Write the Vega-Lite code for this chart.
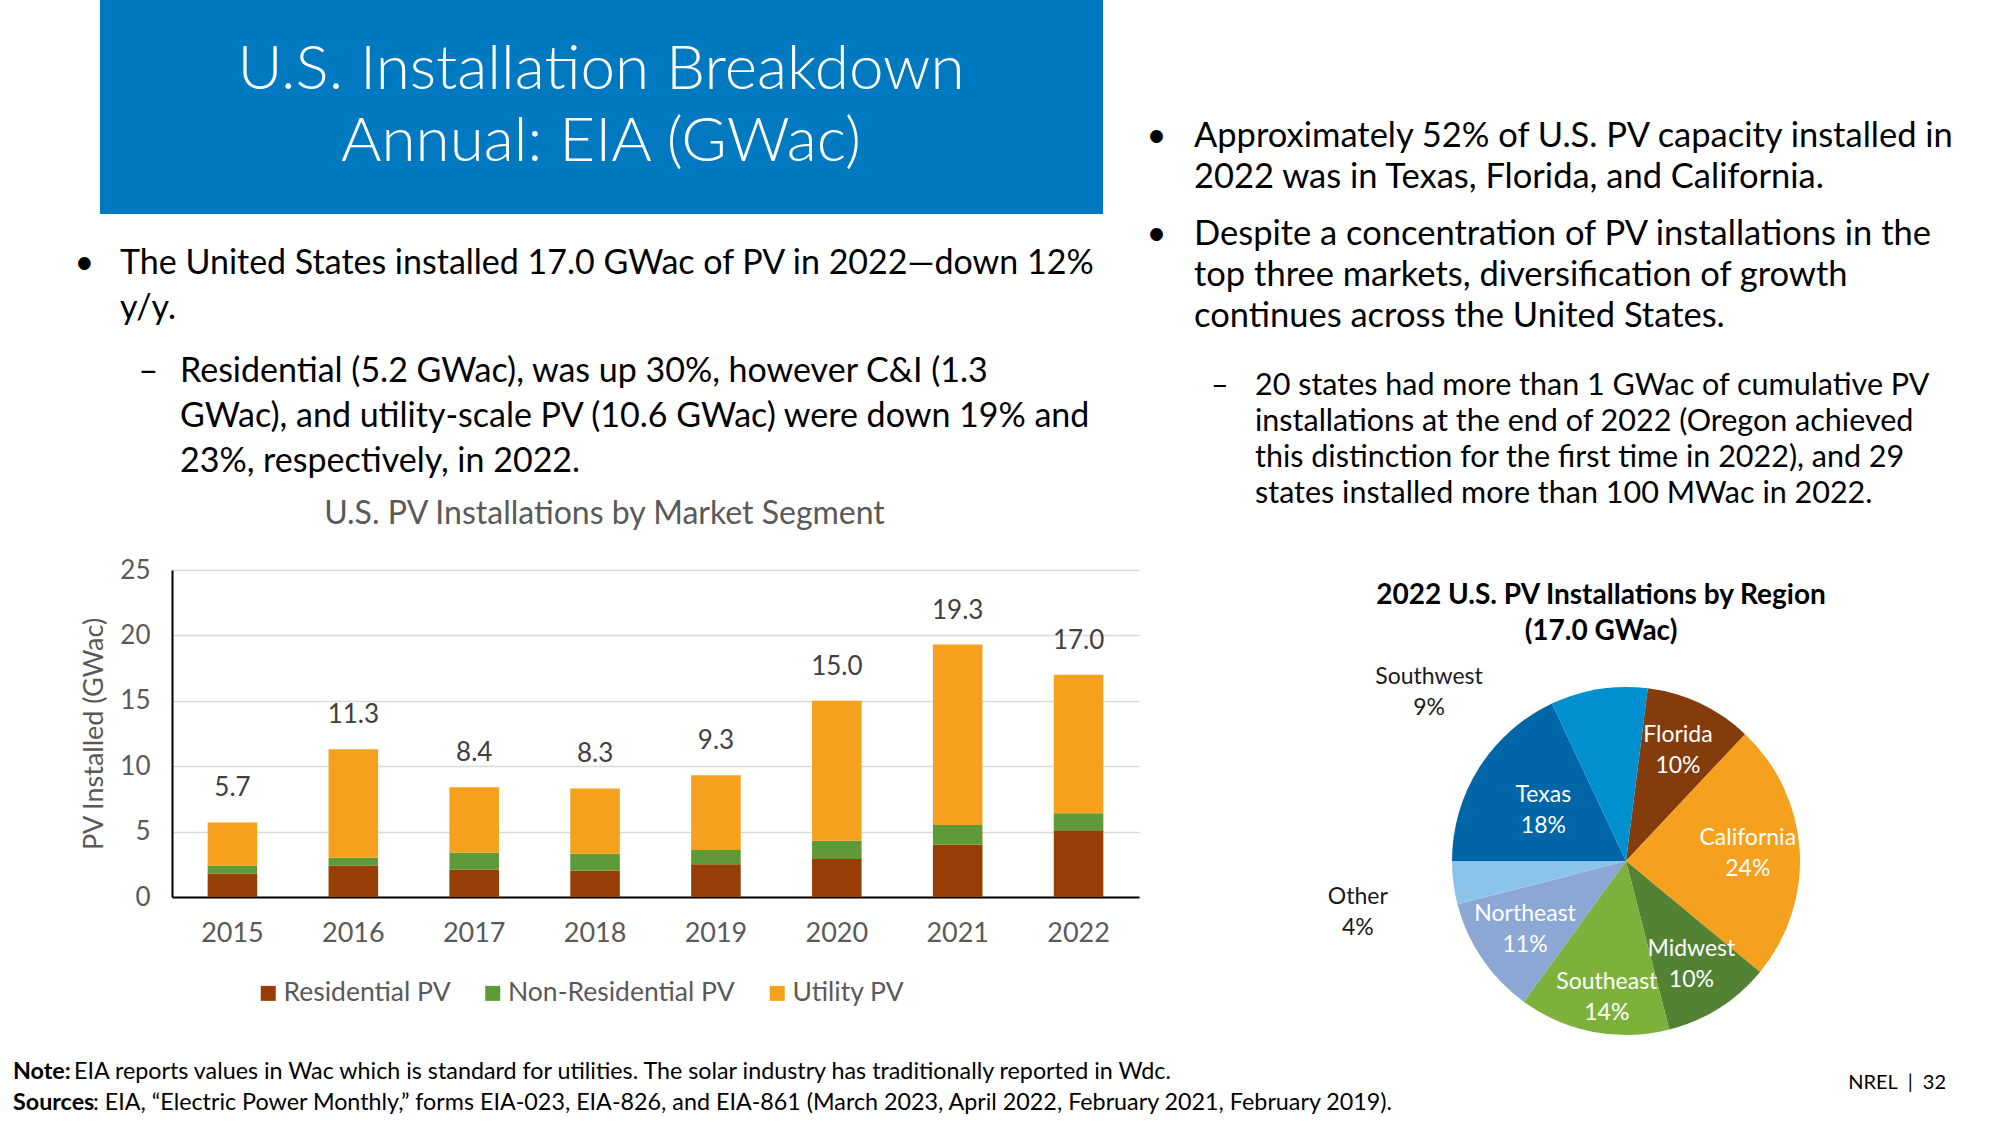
{
  "$schema": "https://vega.github.io/schema/vega-lite/v6.json",
  "background": "white",
  "autosize": {"type": "none"},
  "padding": {"left": 0, "top": 0, "right": 2000, "bottom": 1125},
  "config": {"font": "Lato", "view": {"stroke": null}},
  "resolve": {"scale": {"color": "independent", "theta": "independent"}, "legend": {"color": "independent"}},
  "columns": 5,
  "spacing": 0,
  "bounds": "flush",
  "align": "each",
  "concat": [
    {
      "width": 100, "height": 214,
      "data": {"values": [{}]},
      "mark": {"type": "rect", "opacity": 0},
      "title": {
        "text": "EIA reports values in Wac which is standard for utilities. The solar industry has traditionally reported in Wdc.",
        "orient": "bottom", "anchor": "start", "frame": "group", "dx": 74, "offset": 847.3,
        "fontSize": 23.3, "fontWeight": "normal", "color": "#000000"
      }
    },
    {
      "width": 72, "height": 214,
      "view": {"fill": "#0079C1", "stroke": null},
      "data": {"values": [{}]},
      "mark": {"type": "rect", "opacity": 0}
    },
    {
      "width": 931, "height": 214,
      "view": {"fill": "#0079C1", "stroke": null},
      "data": {"values": [{}]},
      "mark": {"type": "rect", "opacity": 0},
      "title": {
        "text": ["U.S. Installation Breakdown", "Annual: EIA (GWac)"],
        "orient": "bottom", "anchor": "middle", "frame": "group", "dx": -36.5, "offset": -174,
        "fontSize": 62, "fontWeight": 300, "color": "#FFFFFF", "lineHeight": 72
      }
    },
    {
      "width": 1, "height": 1,
      "data": {"values": [{}]},
      "mark": {"type": "rect", "opacity": 0},
      "title": {
        "text": ["Approximately 52% of U.S. PV capacity installed in", "2022 was in Texas, Florida, and California."],
        "subtitle": ["Despite a concentration of PV installations in the", "top three markets, diversification of growth", "continues across the United States."],
        "orient": "bottom", "anchor": "start", "frame": "group", "dx": 55, "offset": 118.5,
        "fontSize": 34.5, "fontWeight": "normal", "color": "#000000", "lineHeight": 41,
        "subtitleFont": "Lato", "subtitleFontSize": 34.5, "subtitleColor": "#000000", "subtitleLineHeight": 41, "subtitlePadding": 22.5
      }
    },
    {
      "width": 1, "height": 1,
      "data": {"values": [{}]},
      "mark": {"type": "rect", "opacity": 0},
      "title": {
        "text": "\u2022",
        "subtitle": "\u2022",
        "orient": "bottom", "anchor": "start", "frame": "group", "dx": -305.5, "offset": 118.5,
        "fontSize": 34.5, "fontWeight": "normal", "color": "#000000",
        "subtitleFont": "Lato", "subtitleFontSize": 34.5, "subtitleColor": "#000000", "subtitlePadding": 63.5
      }
    },
    {
      "width": 100, "height": 356,
      "data": {"values": [{}]},
      "mark": {"type": "rect", "opacity": 0},
      "title": {
        "text": ["The United States installed 17.0 GWac of PV in 2022\u2014down 12%", "y/y."],
        "orient": "bottom", "anchor": "start", "frame": "group", "dx": 120, "offset": -323.3,
        "fontSize": 34, "fontWeight": "normal", "color": "#000000", "lineHeight": 45
      }
    },
    {
      "width": 1, "height": 1,
      "data": {"values": [{}]},
      "mark": {"type": "rect", "opacity": 0},
      "title": {
        "text": ["Residential (5.2 GWac), was up 30%, however C&I (1.3", "GWac), and utility-scale PV (10.6 GWac) were down 19% and", "23%, respectively, in 2022."],
        "orient": "bottom", "anchor": "start", "frame": "group", "dx": 80, "offset": 139.7,
        "fontSize": 34, "fontWeight": "normal", "color": "#000000", "lineHeight": 45
      }
    },
    {
      "width": 1, "height": 1,
      "data": {"values": [{}]},
      "mark": {"type": "rect", "opacity": 0},
      "title": {
        "text": "\u2022",
        "orient": "bottom", "anchor": "start", "frame": "group", "dx": -97.5, "offset": 31.7,
        "fontSize": 34, "fontWeight": "normal", "color": "#000000"
      }
    },
    {
      "width": 1, "height": 1,
      "data": {"values": [{}]},
      "mark": {"type": "rect", "opacity": 0},
      "title": {
        "text": "\u2013",
        "orient": "bottom", "anchor": "start", "frame": "group", "dx": -1000.5, "offset": 139.7,
        "fontSize": 34, "fontWeight": "normal", "color": "#000000"
      }
    },
    {
      "width": 1, "height": 1,
      "data": {"values": [{}]},
      "mark": {"type": "rect", "opacity": 0},
      "title": {
        "text": ["20 states had more than 1 GWac of cumulative PV", "installations at the end of 2022 (Oregon achieved", "this distinction for the first time in 2022), and 29", "states installed more than 100 MWac in 2022."],
        "orient": "bottom", "anchor": "start", "frame": "group", "dx": -197, "offset": 156.2,
        "fontSize": 30.5, "fontWeight": "normal", "color": "#000000", "lineHeight": 36
      }
    },
    {
      "width": 100, "height": 327,
      "data": {"values": [{}]},
      "mark": {"type": "rect", "opacity": 0},
      "title": {
        "text": ["Note:", "Sources"],
        "orient": "bottom", "anchor": "start", "frame": "group", "dx": 13, "offset": 164.3,
        "fontSize": 23.3, "fontWeight": "bold", "color": "#000000", "lineHeight": 31
      }
    },
    {
      "width": 1, "height": 1,
      "data": {"values": [{}]},
      "mark": {"type": "rect", "opacity": 0},
      "title": {
        "text": "\u2013",
        "orient": "bottom", "anchor": "start", "frame": "group", "dx": 1111, "offset": -199.8,
        "fontSize": 30.5, "fontWeight": "normal", "color": "#000000"
      }
    },
    {
      "width": 967, "height": 327,
      "title": {"text": "U.S. PV Installations by Market Segment", "fontSize": 32, "fontWeight": "normal", "color": "#595959", "offset": 26, "anchor": "middle", "frame": "group", "dx": -51},
      "data": {"values": [
        {"year": "2015", "segment": "Residential PV", "value": 1.8, "o": 1},
        {"year": "2015", "segment": "Non-Residential PV", "value": 0.6, "o": 2},
        {"year": "2015", "segment": "Utility PV", "value": 3.3, "o": 3},
        {"year": "2016", "segment": "Residential PV", "value": 2.4, "o": 1},
        {"year": "2016", "segment": "Non-Residential PV", "value": 0.6, "o": 2},
        {"year": "2016", "segment": "Utility PV", "value": 8.3, "o": 3},
        {"year": "2017", "segment": "Residential PV", "value": 2.1, "o": 1},
        {"year": "2017", "segment": "Non-Residential PV", "value": 1.3, "o": 2},
        {"year": "2017", "segment": "Utility PV", "value": 5.0, "o": 3},
        {"year": "2018", "segment": "Residential PV", "value": 2.0, "o": 1},
        {"year": "2018", "segment": "Non-Residential PV", "value": 1.3, "o": 2},
        {"year": "2018", "segment": "Utility PV", "value": 5.0, "o": 3},
        {"year": "2019", "segment": "Residential PV", "value": 2.5, "o": 1},
        {"year": "2019", "segment": "Non-Residential PV", "value": 1.1, "o": 2},
        {"year": "2019", "segment": "Utility PV", "value": 5.7, "o": 3},
        {"year": "2020", "segment": "Residential PV", "value": 2.9, "o": 1},
        {"year": "2020", "segment": "Non-Residential PV", "value": 1.4, "o": 2},
        {"year": "2020", "segment": "Utility PV", "value": 10.7, "o": 3},
        {"year": "2021", "segment": "Residential PV", "value": 4.0, "o": 1},
        {"year": "2021", "segment": "Non-Residential PV", "value": 1.5, "o": 2},
        {"year": "2021", "segment": "Utility PV", "value": 13.8, "o": 3},
        {"year": "2022", "segment": "Residential PV", "value": 5.1, "o": 1},
        {"year": "2022", "segment": "Non-Residential PV", "value": 1.3, "o": 2},
        {"year": "2022", "segment": "Utility PV", "value": 10.6, "o": 3}
      ]},
      "encoding": {
        "x": {
          "field": "year", "type": "ordinal",
          "scale": {"paddingInner": 0.59, "paddingOuter": 0.295},
          "axis": {"title": null, "labelAngle": 0, "labelFontSize": 27, "labelColor": "#595959", "labelPadding": 23, "ticks": false, "domainColor": "#000000", "domainWidth": 2}
        },
        "y": {
          "field": "value", "type": "quantitative",
          "scale": {"domain": [0, 25], "nice": false},
          "axis": {"title": "PV Installed (GWac)", "values": [0, 5, 10, 15, 20, 25], "labelFontSize": 26, "labelColor": "#595959", "labelPadding": 22, "ticks": false, "domain": true, "domainColor": "#000000", "domainWidth": 2, "gridColor": "#D9D9D9", "gridWidth": 1.5, "titleFontSize": 27, "titleColor": "#595959", "titleFontWeight": "normal", "titlePadding": 11}
        }
      },
      "layer": [
        {
          "mark": {"type": "bar"},
          "encoding": {
            "color": {
              "field": "segment", "type": "nominal",
              "scale": {"domain": ["Residential PV", "Non-Residential PV", "Utility PV"], "range": ["#963E05", "#5E9A38", "#F5A11E"]},
              "legend": {"title": null, "orient": "none", "legendX": 83, "legendY": 410, "direction": "horizontal", "symbolType": "square", "symbolSize": 225, "symbolStrokeWidth": 0, "labelFontSize": 26.5, "labelColor": "#595959", "labelLimit": 500, "columnPadding": 28.5, "labelOffset": 2}
            },
            "order": {"field": "o", "type": "quantitative"}
          }
        },
        {
          "transform": [{"aggregate": [{"op": "sum", "field": "value", "as": "value"}], "groupby": ["year"]}],
          "mark": {"type": "text", "baseline": "bottom", "dy": -21, "fontSize": 26, "color": "#404040"},
          "encoding": {"text": {"field": "value", "type": "quantitative", "format": ".1f"}}
        }
      ]
    },
    {
      "width": 313, "height": 582,
      "data": {"values": [{}]},
      "mark": {"type": "rect", "opacity": 0},
      "title": {
        "text": ["2022 U.S. PV Installations by Region", "(17.0 GWac)"],
        "orient": "bottom", "anchor": "middle", "frame": "group", "dx": 305.5, "offset": -570,
        "fontSize": 28, "fontWeight": "bold", "color": "#000000", "lineHeight": 36
      }
    },
    {
      "width": 348, "height": 582,
      "data": {"values": [
        {"region": "Florida", "share": 0.10, "o": 1},
        {"region": "California", "share": 0.24, "o": 2},
        {"region": "Midwest", "share": 0.10, "o": 3},
        {"region": "Southeast", "share": 0.14, "o": 4},
        {"region": "Northeast", "share": 0.11, "o": 5},
        {"region": "Other", "share": 0.04, "o": 6},
        {"region": "Texas", "share": 0.18, "o": 7},
        {"region": "Southwest", "share": 0.09, "o": 8}
      ]},
      "layer": [
        {
          "mark": {"type": "arc", "outerRadius": 174},
          "encoding": {
            "theta": {"field": "share", "type": "quantitative", "stack": true, "scale": {"domain": [0, 1], "range": [0.12566, 6.40885]}},
            "order": {"field": "o", "type": "quantitative"},
            "color": {
              "field": "region", "type": "nominal", "legend": null,
              "scale": {"domain": ["Florida", "California", "Midwest", "Southeast", "Northeast", "Other", "Texas", "Southwest"], "range": ["#843C0C", "#F5A01E", "#548235", "#7DB13C", "#8BA8D5", "#8CC3EB", "#0066A8", "#0090D0"]}
            }
          }
        },
        {
          "mark": {"type": "text", "radius": 122, "dy": -15.5, "fontSize": 23, "color": "white"},
          "encoding": {
            "theta": {"field": "share", "type": "quantitative", "stack": true},
            "order": {"field": "o", "type": "quantitative"},
            "detail": {"field": "region", "type": "nominal"},
            "text": {"condition": {"test": "indexof(['Southwest', 'Other', 'Texas', 'Southeast'], datum.region) >= 0", "value": ""}, "field": "region", "type": "nominal"}
          }
        },
        {
          "mark": {"type": "text", "radius": 122, "dy": 15.5, "fontSize": 23, "color": "white"},
          "encoding": {
            "theta": {"field": "share", "type": "quantitative", "stack": true},
            "order": {"field": "o", "type": "quantitative"},
            "detail": {"field": "region", "type": "nominal"},
            "text": {"condition": {"test": "indexof(['Southwest', 'Other', 'Texas', 'Southeast'], datum.region) >= 0", "value": ""}, "field": "share", "type": "quantitative", "format": ".0%"}
          }
        },
        {
          "transform": [{"filter": "datum.region === 'Texas'"}],
          "mark": {"type": "text", "radius": 97, "thetaOffset": 4.57275, "dy": -15.5, "fontSize": 23, "color": "white"},
          "encoding": {
            "theta": {"field": "share", "type": "quantitative", "stack": true},
            "text": {"field": "region", "type": "nominal"}
          }
        },
        {
          "transform": [{"filter": "datum.region === 'Texas'"}],
          "mark": {"type": "text", "radius": 97, "thetaOffset": 4.57275, "dy": 15.5, "fontSize": 23, "color": "white"},
          "encoding": {
            "theta": {"field": "share", "type": "quantitative", "stack": true},
            "text": {"field": "share", "type": "quantitative", "format": ".0%"}
          }
        },
        {
          "transform": [{"filter": "datum.region === 'Southeast'"}],
          "mark": {"type": "text", "radius": 138, "thetaOffset": 2.71573, "dy": -15.5, "fontSize": 23, "color": "white"},
          "encoding": {
            "theta": {"field": "share", "type": "quantitative", "stack": true},
            "text": {"field": "region", "type": "nominal"}
          }
        },
        {
          "transform": [{"filter": "datum.region === 'Southeast'"}],
          "mark": {"type": "text", "radius": 138, "thetaOffset": 2.71573, "dy": 15.5, "fontSize": 23, "color": "white"},
          "encoding": {
            "theta": {"field": "share", "type": "quantitative", "stack": true},
            "text": {"field": "share", "type": "quantitative", "format": ".0%"}
          }
        },
        {
          "transform": [{"filter": "datum.region === 'Southwest'"}],
          "mark": {"type": "text", "radius": 259, "thetaOffset": 5.01084, "dy": -15.5, "fontSize": 23, "color": "#1a1a1a"},
          "encoding": {
            "theta": {"field": "share", "type": "quantitative", "stack": true},
            "text": {"field": "region", "type": "nominal"}
          }
        },
        {
          "transform": [{"filter": "datum.region === 'Southwest'"}],
          "mark": {"type": "text", "radius": 259, "thetaOffset": 5.01084, "dy": 15.5, "fontSize": 23, "color": "#1a1a1a"},
          "encoding": {
            "theta": {"field": "share", "type": "quantitative", "stack": true},
            "text": {"field": "share", "type": "quantitative", "format": ".0%"}
          }
        },
        {
          "transform": [{"filter": "datum.region === 'Other'"}],
          "mark": {"type": "text", "radius": 273, "thetaOffset": 4.27256, "dy": -15.5, "fontSize": 23, "color": "#1a1a1a"},
          "encoding": {
            "theta": {"field": "share", "type": "quantitative", "stack": true},
            "text": {"field": "region", "type": "nominal"}
          }
        },
        {
          "transform": [{"filter": "datum.region === 'Other'"}],
          "mark": {"type": "text", "radius": 273, "thetaOffset": 4.27256, "dy": 15.5, "fontSize": 23, "color": "#1a1a1a"},
          "encoding": {
            "theta": {"field": "share", "type": "quantitative", "stack": true},
            "text": {"field": "share", "type": "quantitative", "format": ".0%"}
          }
        }
      ]
    },
    {
      "width": 1, "height": 1,
      "data": {"values": [{}]},
      "mark": {"type": "rect", "opacity": 0},
      "title": {
        "text": ": EIA, \u201cElectric Power Monthly,\u201d forms EIA-023, EIA-826, and EIA-861 (March 2023, April 2022, February 2021, February 2019).",
        "orient": "bottom", "anchor": "start", "frame": "group", "dx": 93, "offset": -60.7,
        "fontSize": 23.3, "fontWeight": "normal", "color": "#000000"
      }
    },
    {
      "width": 1, "height": 1,
      "data": {"values": [{}]},
      "mark": {"type": "rect", "opacity": 0},
      "title": {
        "text": "NREL\u2002|\u200232",
        "orient": "bottom", "anchor": "end", "frame": "group", "dx": 1845, "offset": -80,
        "fontSize": 20, "fontWeight": "normal", "color": "#000000"
      }
    },
    {
      "width": 1, "height": 1,
      "data": {"values": [{}]},
      "mark": {"type": "rect", "opacity": 0}
    },
    {
      "width": 1, "height": 1,
      "data": {"values": [{}]},
      "mark": {"type": "rect", "opacity": 0}
    },
    {
      "width": 1, "height": 1,
      "data": {"values": [{}]},
      "mark": {"type": "rect", "opacity": 0}
    }
  ]
}
